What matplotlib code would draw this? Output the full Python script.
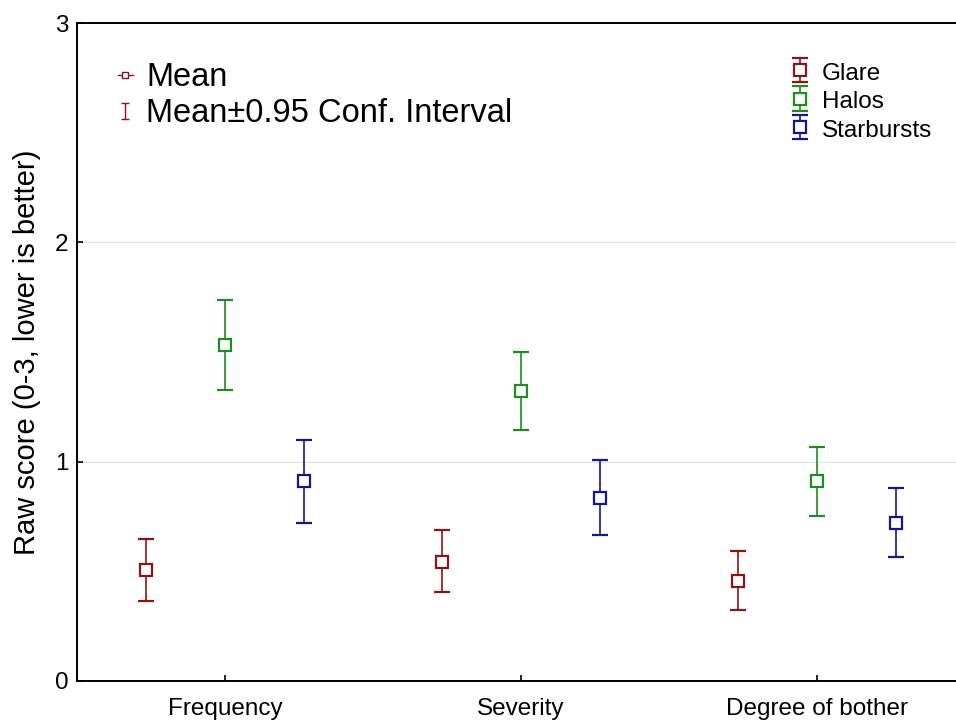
import numpy as np
import matplotlib
matplotlib.use("Agg")
import matplotlib.pyplot as plt
from matplotlib.lines import Line2D
from matplotlib.legend_handler import HandlerErrorbar

plt.rcParams['font.family'] = ['Liberation Sans', 'DejaVu Sans']

categories = ['Frequency', 'Severity', 'Degree of bother']
series = ['Glare', 'Halos', 'Starbursts']
colors = ['#8b1414', '#1e8c1e', '#16168c']

# mean, lower and upper 95% CI per series, one value per category
glare_mean = [0.506, 0.544, 0.457]
glare_low = [0.365, 0.404, 0.324]
glare_high = [0.648, 0.688, 0.591]

halos_mean = [1.530, 1.321, 0.910]
halos_low = [1.328, 1.144, 0.751]
halos_high = [1.737, 1.502, 1.068]

star_mean = [0.910, 0.833, 0.720]
star_low = [0.720, 0.666, 0.565]
star_high = [1.097, 1.008, 0.881]

means = [glare_mean, halos_mean, star_mean]
lows = [glare_low, halos_low, star_low]
highs = [glare_high, halos_high, star_high]
offsets = [-0.267, 0.0, 0.267]


def main():
    fig = plt.figure(figsize=(9.56, 7.21), dpi=100)
    ax = fig.add_axes([0.0805, 0.0555, 0.9195, 0.9125])

    x = np.arange(len(categories))
    handles = []
    for i, name in enumerate(series):
        m = np.array(means[i])
        lo = np.array(lows[i])
        hi = np.array(highs[i])
        eb = ax.errorbar(x + offsets[i], m, yerr=[m - lo, hi - m], fmt='s',
                         color=colors[i], ecolor=colors[i], elinewidth=1.2,
                         capsize=6, capthick=1.2, markersize=8.5,
                         markerfacecolor='white', markeredgewidth=1.6,
                         label=name, zorder=3)
        handles.append(eb)

    ax.set_xlim(-0.5, 2.47)
    ax.set_ylim(0, 3)
    ax.set_xticks(x)
    ax.set_xticklabels(categories)
    ax.set_yticks([0, 1, 2, 3])
    ax.tick_params(axis='both', direction='in', length=4, width=1.2,
                   labelsize=17.5)
    ax.tick_params(axis='x', pad=12)
    ax.tick_params(axis='y', pad=6)
    ax.set_ylabel('Raw score (0-3, lower is better)', fontsize=21, labelpad=10)

    for v in [1, 2]:
        ax.axhline(v, color='#e2e2e2', lw=0.9, zorder=0)

    for s in ['left', 'bottom', 'top']:
        ax.spines[s].set_linewidth(1.4)
    ax.spines['right'].set_visible(False)

    leg2 = ax.legend(handles=handles, loc='upper right',
                     bbox_to_anchor=(0.984, 0.958), frameon=False,
                     fontsize=17.5, handlelength=0.8, handleheight=1.0,
                     handletextpad=0.5, labelspacing=0.18, borderaxespad=0)
    ax.add_artist(leg2)

    mean_h = Line2D([], [], color=colors[0], marker='s', markersize=4,
                    markerfacecolor='white', lw=1)
    ci_h = ax.errorbar([np.nan], [np.nan], yerr=[[0], [0]], fmt='none',
                       ecolor=colors[0], elinewidth=1, capsize=3, capthick=1)
    ax.legend([mean_h, ci_h], ['Mean', 'Mean\u00b10.95 Conf. Interval'],
              loc='upper left', bbox_to_anchor=(0.032, 0.96), frameon=False,
              fontsize=23.5, handlelength=0.45, handletextpad=0.4,
              labelspacing=0.15, borderaxespad=0,
              handler_map={type(ci_h): HandlerErrorbar(xerr_size=0.25)})

    fig.savefig('out.png', dpi=100)


if __name__ == "__main__":
    main()
